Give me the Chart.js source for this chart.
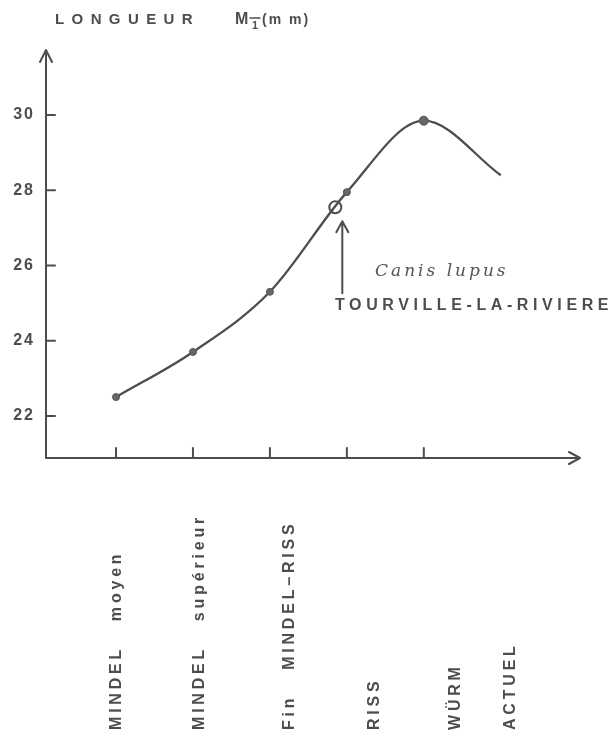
<!DOCTYPE html>
<html>
<head>
<meta charset="utf-8">
<script src="https://cdn.jsdelivr.net/npm/chart.js@4.4.1/dist/chart.umd.min.js"></script>
<style>
  html, body { margin: 0; padding: 0; background: #fff; }
  #wrap { width: 616px; height: 734px; }
</style>
</head>
<body>
<div id="wrap"><canvas id="chart" width="616" height="734"></canvas></div>
<script>
const periods = ['MINDEL   moyen', 'MINDEL   supérieur', 'Fin   MINDEL–RISS', 'RISS', 'WÜRM', 'ACTUEL'];
const lengths = [22.5, 23.7, 25.3, 27.95, 29.85, 28.4];
const markers = [3.5, 3.5, 3.5, 3.5, 4.5, 0];
const tickedPeriods = 5;
const yTicks = [22, 24, 26, 28, 30];
const tourville = { x: 2.85, y: 27.55 };
const titleText = 'LONGUEUR';
const speciesText = 'Canis lupus';
const siteText = 'TOURVILLE-LA-RIVIERE';

const INK = '#4d4d4d';
const SANS = "'Liberation Sans', Arial, sans-serif";

const axesPlugin = {
  id: 'handAxes',
  afterDraw(chart) {
    const { ctx, chartArea: a, scales: { x, y } } = chart;
    ctx.save();
    ctx.strokeStyle = INK;
    ctx.fillStyle = INK;
    ctx.lineWidth = 2;
    ctx.lineCap = 'round';
    ctx.lineJoin = 'round';

    // axes with arrows
    ctx.beginPath();
    ctx.moveTo(a.left, a.bottom); ctx.lineTo(a.left, a.top);
    ctx.moveTo(a.left - 6, a.top + 12); ctx.lineTo(a.left, a.top); ctx.lineTo(a.left + 6, a.top + 12);
    ctx.moveTo(a.left, a.bottom); ctx.lineTo(a.right, a.bottom);
    ctx.moveTo(a.right - 11, a.bottom - 6); ctx.lineTo(a.right, a.bottom); ctx.lineTo(a.right - 11, a.bottom + 6);
    ctx.stroke();

    // y ticks (inside) and labels
    ctx.font = `bold 16px ${SANS}`;
    ctx.letterSpacing = '2px';
    ctx.textAlign = 'right';
    ctx.textBaseline = 'middle';
    yTicks.forEach(v => {
      const py = y.getPixelForValue(v);
      ctx.beginPath(); ctx.moveTo(a.left, py); ctx.lineTo(a.left + 9, py); ctx.stroke();
      ctx.fillText(String(v), a.left - 11, py);
    });

    // x ticks (inside)
    for (let i = 0; i < tickedPeriods; i++) {
      const px = x.getPixelForValue(i);
      ctx.beginPath(); ctx.moveTo(px, a.bottom); ctx.lineTo(px, a.bottom - 10); ctx.stroke();
    }

    // rotated period labels
    const offsets = [1, 7, 20, 28, 32, 10];
    ctx.font = `bold 16px ${SANS}`;
    ctx.letterSpacing = '3.8px';
    ctx.textAlign = 'left';
    ctx.textBaseline = 'middle';
    periods.forEach((p, i) => {
      ctx.save();
      ctx.translate(x.getPixelForValue(i) + offsets[i], 730);
      ctx.rotate(-Math.PI / 2);
      ctx.fillText(p, 0, 0);
      ctx.restore();
    });

    // axis title
    ctx.textAlign = 'left';
    ctx.textBaseline = 'alphabetic';
    ctx.font = `bold 15px ${SANS}`;
    ctx.letterSpacing = '7.4px';
    ctx.fillText(titleText, 55, 24);
    ctx.letterSpacing = '0px';
    ctx.font = `bold 16px ${SANS}`;
    ctx.fillText('M', 235, 24);
    ctx.font = `bold 11px ${SANS}`;
    ctx.fillText('1', 252, 29);
    ctx.lineWidth = 1.5;
    ctx.beginPath(); ctx.moveTo(250, 18); ctx.lineTo(260, 18); ctx.stroke();
    ctx.font = `bold 14px ${SANS}`;
    ctx.letterSpacing = '2px';
    ctx.fillText('(m m)', 262, 24);

    // annotation
    const tx = x.getPixelForValue(tourville.x) + 7;
    const ty = y.getPixelForValue(tourville.y) + 14;
    ctx.lineWidth = 2;
    ctx.beginPath();
    ctx.moveTo(tx, ty + 72); ctx.lineTo(tx, ty);
    ctx.moveTo(tx - 6, ty + 11); ctx.lineTo(tx, ty); ctx.lineTo(tx + 6, ty + 11);
    ctx.stroke();
    ctx.letterSpacing = '3px';
    ctx.font = `italic 17px 'DejaVu Serif', 'Liberation Serif', serif`;
    ctx.fillStyle = '#555';
    ctx.fillText(speciesText, 375, 276);
    ctx.fillStyle = INK;
    ctx.font = `bold 16px ${SANS}`;
    ctx.letterSpacing = '4.6px';
    ctx.fillText(siteText, 335, 310);
    ctx.restore();
  }
};

new Chart(document.getElementById('chart'), {
  type: 'line',
  data: {
    datasets: [
      {
        data: lengths.map((v, i) => ({ x: i, y: v })),
        borderColor: INK,
        borderWidth: 2.3,
        cubicInterpolationMode: 'monotone',
        pointRadius: markers,
        pointBackgroundColor: '#666',
        pointBorderColor: '#555',
        pointBorderWidth: 1,
        clip: false,
      },
      {
        data: [tourville],
        showLine: false,
        pointRadius: 6,
        pointBorderWidth: 2,
        pointBorderColor: INK,
        pointBackgroundColor: 'rgba(0,0,0,0)',
        clip: false,
      },
    ],
  },
  options: {
    responsive: false,
    animation: false,
    layout: { padding: { left: 46, right: 36, top: 50, bottom: 276 } },
    plugins: { legend: { display: false }, tooltip: { enabled: false } },
    scales: {
      x: { type: 'linear', min: -0.91, max: 6.03, display: false },
      y: { type: 'linear', min: 20.88, max: 31.73, display: false },
    },
  },
  plugins: [axesPlugin],
});
</script>
</body>
</html>
